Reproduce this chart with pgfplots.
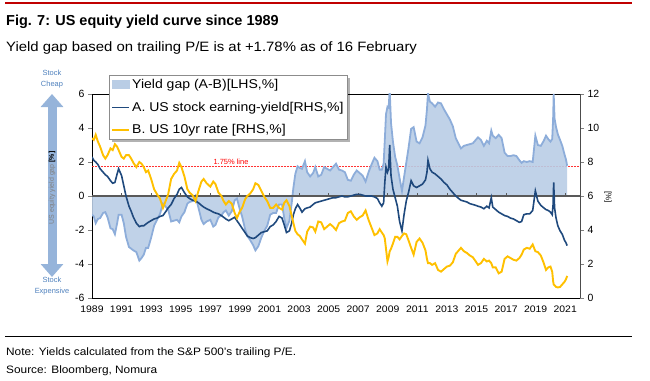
\documentclass[border=0pt]{standalone}
\usepackage{pgfplots}
\pgfplotsset{compat=1.18}
\usepackage{pgfplotstable}
\usepackage{fontspec}
\setmainfont{Liberation Sans}
\newfontfamily\widefont[FakeStretch=1.1]{Liberation Sans}
\usetikzlibrary{arrows.meta,calc}
\pgfdeclarelayer{background}
\pgfsetlayers{background,main}
\definecolor{gapfill}{RGB}{185,205,229}
\definecolor{gapline}{RGB}{141,173,218}
\definecolor{navy}{RGB}{31,73,125}
\definecolor{gold}{RGB}{255,192,0}
\definecolor{arrowblue}{RGB}{150,180,218}
\definecolor{textblue}{RGB}{79,129,189}
\definecolor{figred}{RGB}{192,0,0}
\pgfplotstableread{
t A B G
1989.00 8.30 9.40 -1.10
1989.12 8.10 9.30 -1.20
1989.25 8.00 9.60 -1.60
1989.40 7.85 9.20 -1.35
1989.55 7.60 8.90 -1.30
1989.75 7.40 8.40 -1.00
1989.90 7.25 8.20 -0.95
1990.05 7.15 8.40 -1.25
1990.25 6.90 8.80 -1.90
1990.40 6.75 8.70 -1.95
1990.55 6.80 9.05 -2.25
1990.70 7.30 8.90 -1.60
1990.80 7.60 8.70 -1.10
1991.00 7.20 8.30 -1.10
1991.15 6.60 8.20 -1.60
1991.30 6.00 8.40 -2.40
1991.50 5.40 8.40 -3.00
1991.65 5.10 8.20 -3.10
1991.80 4.75 7.95 -3.20
1992.00 4.40 7.70 -3.30
1992.20 4.20 8.00 -3.80
1992.35 4.25 7.90 -3.65
1992.50 4.25 7.70 -3.45
1992.65 4.35 7.40 -3.05
1992.80 4.45 7.50 -3.05
1993.00 4.55 7.00 -2.45
1993.20 4.65 6.40 -1.75
1993.40 4.70 6.10 -1.40
1993.60 4.80 5.85 -1.05
1993.80 4.85 5.30 -0.45
1994.00 5.10 5.75 -0.65
1994.15 5.30 6.10 -0.80
1994.35 5.50 7.00 -1.50
1994.55 5.85 7.30 -1.45
1994.75 6.10 7.50 -1.40
1994.90 6.40 7.95 -1.55
1995.05 6.50 7.70 -1.20
1995.25 6.20 7.15 -0.95
1995.45 5.95 6.40 -0.45
1995.60 5.85 6.20 -0.35
1995.80 5.75 6.05 -0.30
1996.00 5.70 5.70 0.00
1996.20 5.60 6.30 -0.70
1996.40 5.45 6.85 -1.40
1996.55 5.35 7.00 -1.65
1996.75 5.25 6.75 -1.50
1997.00 5.15 6.55 -1.40
1997.20 5.05 6.85 -1.80
1997.35 5.00 6.70 -1.70
1997.55 4.95 6.20 -1.25
1997.75 4.85 6.00 -1.15
1997.90 4.75 5.70 -0.95
1998.05 4.65 5.50 -0.85
1998.25 4.55 5.70 -1.15
1998.45 4.65 5.55 -0.90
1998.65 4.75 5.00 -0.25
1998.80 4.55 4.70 -0.15
1999.00 4.30 5.10 -0.80
1999.15 4.10 5.30 -1.20
1999.35 3.85 5.80 -1.95
1999.50 3.65 6.00 -2.35
1999.70 3.55 6.15 -2.60
1999.90 3.50 6.40 -2.90
2000.05 3.55 6.75 -3.20
2000.25 3.70 6.65 -2.95
2000.45 3.85 6.30 -2.45
2000.65 3.90 5.95 -2.05
2000.85 3.95 5.70 -1.75
2001.05 4.20 5.30 -1.10
2001.25 4.30 5.30 -1.00
2001.45 4.50 5.50 -1.00
2001.65 4.80 5.30 -0.50
2001.85 4.70 5.20 -0.50
2002.00 4.30 5.60 -1.30
2002.15 3.85 5.75 -1.90
2002.35 3.95 5.40 -1.45
2002.50 4.40 4.85 -0.45
2002.62 4.90 4.40 0.50
2002.75 5.25 3.95 1.30
2002.90 5.50 3.75 1.75
2003.05 5.30 3.65 1.65
2003.20 5.05 3.45 1.60
2003.40 5.25 3.20 2.05
2003.55 5.30 3.90 1.40
2003.75 5.35 4.20 1.15
2003.95 5.50 4.15 1.35
2004.10 5.60 3.90 1.70
2004.30 5.65 4.50 1.15
2004.50 5.70 4.45 1.25
2004.70 5.75 4.05 1.70
2004.90 5.80 4.20 1.60
2005.10 5.85 4.35 1.50
2005.30 5.90 4.20 1.70
2005.50 5.90 4.00 1.90
2005.70 5.95 4.40 1.55
2005.90 6.00 4.50 1.50
2006.10 5.95 4.55 1.40
2006.30 5.95 5.00 0.95
2006.50 6.00 5.10 0.90
2006.70 6.05 4.80 1.25
2006.90 6.10 4.60 1.50
2007.10 6.10 4.75 1.35
2007.30 6.05 4.85 1.20
2007.50 6.00 5.15 0.85
2007.70 6.00 4.60 1.40
2007.90 6.00 4.15 1.85
2008.10 5.95 3.70 2.25
2008.30 5.85 3.80 2.05
2008.45 5.60 4.05 1.55
2008.60 5.40 3.85 1.55
2008.72 5.60 3.70 1.90
2008.80 6.80 3.50 3.30
2008.88 7.70 2.90 4.80
2008.98 7.40 2.15 5.25
2009.06 7.60 2.40 5.20
2009.13 9.00 2.75 6.25
2009.22 7.20 2.90 4.30
2009.35 6.40 3.20 3.20
2009.50 5.90 3.60 2.30
2009.65 5.40 3.60 1.80
2009.80 4.50 3.45 1.05
2009.96 3.95 3.65 0.30
2010.10 4.90 3.80 1.10
2010.25 5.70 3.75 1.95
2010.40 6.20 3.40 2.80
2010.58 6.90 2.95 3.95
2010.75 6.60 2.55 4.05
2010.95 6.50 3.30 3.20
2011.15 6.60 3.50 3.10
2011.35 6.70 3.25 3.45
2011.55 6.95 2.80 4.15
2011.65 7.40 2.30 5.10
2011.72 8.10 2.05 6.05
2011.85 7.60 2.05 5.55
2012.00 7.40 1.95 5.45
2012.20 7.30 2.05 5.25
2012.40 7.15 1.65 5.50
2012.60 7.00 1.55 5.45
2012.80 6.80 1.70 5.10
2013.00 6.65 1.85 4.80
2013.20 6.40 1.90 4.50
2013.40 6.20 2.10 4.10
2013.60 6.00 2.60 3.40
2013.80 5.85 2.80 3.05
2013.95 5.75 2.95 2.80
2014.15 5.70 2.75 2.95
2014.35 5.65 2.65 3.00
2014.55 5.55 2.50 3.05
2014.75 5.50 2.40 3.10
2014.95 5.45 2.15 3.30
2015.10 5.40 1.95 3.45
2015.30 5.35 2.05 3.30
2015.50 5.25 2.30 2.95
2015.70 5.40 2.15 3.25
2015.85 5.30 2.20 3.10
2016.00 5.90 2.05 3.85
2016.10 5.35 1.80 3.55
2016.30 5.20 1.80 3.40
2016.50 5.05 1.45 3.60
2016.70 4.95 1.55 3.40
2016.90 4.85 2.30 2.55
2017.10 4.80 2.45 2.35
2017.30 4.70 2.35 2.35
2017.50 4.65 2.25 2.40
2017.70 4.55 2.20 2.35
2017.90 4.45 2.35 2.10
2018.05 4.50 2.55 1.95
2018.20 4.90 2.85 2.05
2018.40 4.95 2.95 2.00
2018.60 4.95 2.90 2.05
2018.80 5.15 3.15 2.00
2018.98 6.30 2.75 3.55
2019.15 5.70 2.70 3.00
2019.35 5.45 2.50 2.95
2019.55 5.30 2.05 3.25
2019.70 5.20 1.65 3.55
2019.85 5.15 1.80 3.35
2020.00 5.05 1.85 3.20
2020.12 4.90 1.55 3.35
2020.18 5.50 1.00 4.50
2020.22 6.80 0.80 6.00
2020.28 5.30 0.75 4.55
2020.38 4.70 0.65 4.05
2020.50 4.25 0.62 3.63
2020.65 3.95 0.65 3.30
2020.80 3.75 0.80 2.95
2020.95 3.40 0.95 2.45
2021.05 3.25 1.10 2.15
2021.13 3.08 1.30 1.78
}\data
\begin{document}
\begin{tikzpicture}[x=1bp,y=1bp]
\path[use as bounding box] (0,0) rectangle (650,380);
\draw[figred, line width=2bp] (5,377) -- (632,377);
\node[anchor=base west, inner sep=0, font=\fontsize{14.5}{17}\selectfont\bfseries] at (6,355) {Fig. 7: US equity yield curve since 1989};
\node[anchor=base west, inner sep=0, font=\widefont\fontsize{13.6}{15}\selectfont] at (6,329) {Yield gap based on trailing P/E is at +1.78\% as of 16 February};
\draw[black, line width=0.8bp] (5,44) -- (632,44);
\node[anchor=base west, inner sep=0, font=\widefont\fontsize{10.8}{12}\selectfont] at (6,25) {Note: Yields calculated from the S\&P 500’s trailing P/E.};
\node[anchor=base west, inner sep=0, font=\widefont\fontsize{10.8}{12}\selectfont] at (6,7) {Source: Bloomberg, Nomura};
% left annotation arrow
\draw[arrowblue, line width=9bp, {Triangle[width=22bp,length=13bp]}-{Triangle[width=22bp,length=13bp]}] (52,286) -- (52,103);
\node[rotate=90, inner sep=0, font=\fontsize{7}{8}\selectfont, text=gray] at (52,192) {US equity yield gap \textcolor{black}{\textbf{[\%]}}};
\node[align=center, inner sep=0, font=\fontsize{7.5}{11}\selectfont, text=textblue] at (52,301) {Stock\\Cheap};
\node[align=center, inner sep=0, font=\fontsize{7.5}{11}\selectfont, text=textblue] at (52,94) {Stock\\Expensive};
\node[rotate=-90, inner sep=0, font=\fontsize{8}{9}\selectfont] at (608,183) {[\%]};
\begin{axis}[at={(92bp,82bp)}, anchor=south west, scale only axis, width=488bp, height=204bp,
  xmin=1989, xmax=2022, ymin=-6, ymax=6, ytick={-6,-4,...,6},
  xtick={1989,1991,...,2021}, xtick pos=bottom, ytick pos=left,
  major x tick style={draw=none}, tick align=outside, major tick length=4bp,
  /pgf/number format/assume math mode=true, /pgf/number format/1000 sep={},
  x tick label style={font=\widefont\fontsize{9.5}{10}\selectfont},
  y tick label style={font=\fontsize{10.5}{12}\selectfont},
  axis line style={line width=0.7bp}, clip=true]
\addplot[red!80, densely dotted, line width=0.5bp, forget plot] coordinates {(1989,1.75) (2022,1.75)};
\addplot[fill=gapfill, draw=none, fill opacity=0.9] table[x=t, y=G] {\data} \closedcycle;
\addplot[gapline, line width=1.8bp] table[x=t, y=G] {\data};
\addplot[black!65, line width=1.2bp] coordinates {(1989,0) (2022,0)};
\addplot[ycomb, black!65, line width=0.8bp] coordinates {(1991,0.2) (1993,0.2) (1995,0.2) (1997,0.2) (1999,0.2) (2001,0.2) (2003,0.2) (2005,0.2) (2007,0.2) (2009,0.2) (2011,0.2) (2013,0.2) (2015,0.2) (2017,0.2) (2019,0.2) (2021,0.2)};
\node[anchor=south, inner sep=1.2bp, text=red, font=\fontsize{7.5}{8}\selectfont] at (axis cs:1998.4,1.75) {1.75\% line};
\end{axis}
\begin{axis}[at={(92bp,82bp)}, anchor=south west, scale only axis, width=488bp, height=204bp,
  xmin=1989, xmax=2022, ymin=0, ymax=12, ytick={0,2,...,12},
  axis x line=none, axis y line*=right, tick align=outside, major tick length=4bp,
  /pgf/number format/assume math mode=true,
  y tick label style={font=\fontsize{10.5}{12}\selectfont},
  axis line style={line width=0.7bp, black!70},
  legend image code/.code={\draw[#1] (0bp,0bp) -- (17bp,0bp);},
  legend style={name=leg, at={(0.035,1.093)}, anchor=north west, draw=black!45, fill=white,
    font=\widefont\fontsize{12.8}{15}\selectfont, inner xsep=2bp, inner ysep=2bp, row sep=8bp},
  legend cell align=left]
\addlegendimage{legend image code/.code={\fill[gapfill] (0bp,-4bp) rectangle (17bp,4bp);}}
\addlegendentry{Yield gap (A-B)[LHS,\%]}
\addplot[navy, line width=1.6bp] table[x=t, y=A] {\data};
\addlegendentry{A. US stock earning-yield[RHS,\%]}
\addplot[gold, line width=1.9bp] table[x=t, y=B] {\data};
\addlegendentry{B. US 10yr rate [RHS,\%]}
\end{axis}
\begin{pgfonlayer}{background}
\fill[black!30] ($(leg.south west)+(2.5,-2.5)$) rectangle ($(leg.north east)+(2.5,-2.5)$);
\end{pgfonlayer}
\end{tikzpicture}
\end{document}
